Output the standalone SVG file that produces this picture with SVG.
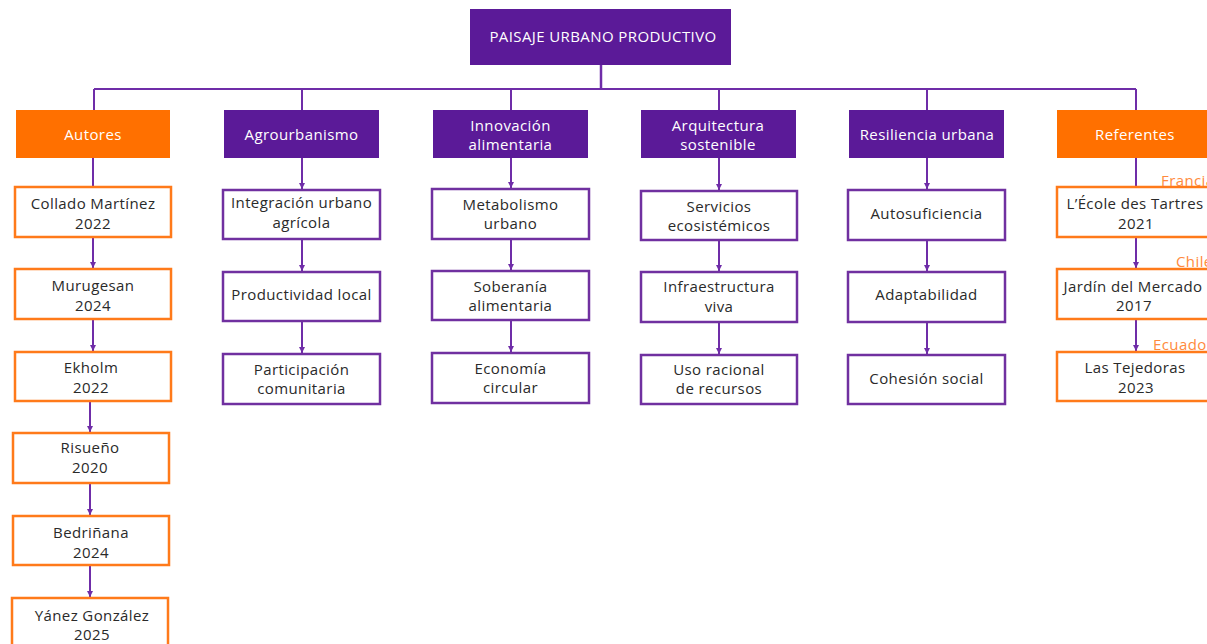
<svg xmlns="http://www.w3.org/2000/svg" width="1207" height="644" viewBox="0 0 1207 644">
  <style>
    .hdr-p { fill: #5B1A98; }
    .hdr-o { fill: #FF7000; }
    .box-p { fill: #ffffff; stroke: #7030A0; stroke-width: 2.5; }
    .box-o { fill: #ffffff; stroke: #FF7A1A; stroke-width: 2.5; }
    text { font-family: "Open Sans", "Liberation Sans", sans-serif; font-size: 15px; letter-spacing: 0.4px; }
    .t { text-anchor: middle; fill: #2a2a2a; }
    .tw { text-anchor: middle; fill: #ffffff; }
    .lbl { fill: #FF8A3D; text-anchor: start; }
    .conn { stroke: #6F2DA8; stroke-width: 2; fill: none; }
    .trunk { stroke: #6F2DA8; stroke-width: 2.5; fill: none; }
  </style>
  <defs>
    <marker id="arrow" markerUnits="userSpaceOnUse" markerWidth="8" markerHeight="8" refX="6" refY="3" orient="auto">
      <path d="M0,0 L6,3 L0,6 z" fill="#6F2DA8"/>
    </marker>
  </defs>

  <rect width="1207" height="644" fill="#ffffff"/>

  <!-- connectors -->
  <g id="connectors">
    <path class="trunk" d="M601,65 V89"/>
    <path class="conn" d="M94,89 H1136"/>
    <path class="conn" d="M94,89 V110 M302,89 V110 M511,89 V110 M719,89 V110 M927,89 V110 M1136,89 V110"/>
    <!-- Autores -->
    <path class="conn" d="M93,158 V187"/>
    <path class="conn" d="M93,237 V268" marker-end="url(#arrow)"/>
    <path class="conn" d="M93,319 V351" marker-end="url(#arrow)"/>
    <path class="conn" d="M90,401 V432" marker-end="url(#arrow)"/>
    <path class="conn" d="M90,483 V515" marker-end="url(#arrow)"/>
    <path class="conn" d="M90,565 V597" marker-end="url(#arrow)"/>
    <!-- Agrourbanismo -->
    <path class="conn" d="M302,158 V189" marker-end="url(#arrow)"/>
    <path class="conn" d="M302,239 V271" marker-end="url(#arrow)"/>
    <path class="conn" d="M302,321 V353" marker-end="url(#arrow)"/>
    <!-- Innovación alimentaria -->
    <path class="conn" d="M511,158 V188" marker-end="url(#arrow)"/>
    <path class="conn" d="M511,239 V270" marker-end="url(#arrow)"/>
    <path class="conn" d="M511,320 V352" marker-end="url(#arrow)"/>
    <!-- Arquitectura sostenible -->
    <path class="conn" d="M719,158 V190" marker-end="url(#arrow)"/>
    <path class="conn" d="M719,240 V271" marker-end="url(#arrow)"/>
    <path class="conn" d="M719,322 V354" marker-end="url(#arrow)"/>
    <!-- Resiliencia urbana -->
    <path class="conn" d="M927,158 V189" marker-end="url(#arrow)"/>
    <path class="conn" d="M927,240 V271" marker-end="url(#arrow)"/>
    <path class="conn" d="M927,322 V354" marker-end="url(#arrow)"/>
    <!-- Referentes -->
    <path class="conn" d="M1136,158 V187"/>
    <path class="conn" d="M1136,237 V268" marker-end="url(#arrow)"/>
    <path class="conn" d="M1136,319 V351" marker-end="url(#arrow)"/>
  </g>

  <!-- root -->
  <g id="paisaje">
    <rect class="hdr-p" x="470" y="9" width="261" height="56"/>
    <text class="tw" x="603" y="42">PAISAJE URBANO PRODUCTIVO</text>
  </g>

  <!-- Autores column -->
  <g id="autores">
    <rect class="hdr-o" x="16" y="110" width="154" height="48"/>
    <text class="tw" x="93" y="140">Autores</text>
  </g>
  <g id="collado">
    <rect class="box-o" x="15" y="187" width="156" height="50"/>
    <text class="t" x="93" y="209">Collado Martínez</text>
    <text class="t" x="93" y="229">2022</text>
  </g>
  <g id="murugesan">
    <rect class="box-o" x="15" y="269" width="156" height="50"/>
    <text class="t" x="93" y="291">Murugesan</text>
    <text class="t" x="93" y="311">2024</text>
  </g>
  <g id="ekholm">
    <rect class="box-o" x="15" y="352" width="156" height="49"/>
    <text class="t" x="91" y="373">Ekholm</text>
    <text class="t" x="91" y="393">2022</text>
  </g>
  <g id="risueno">
    <rect class="box-o" x="13" y="433" width="156" height="50"/>
    <text class="t" x="90" y="453">Risueño</text>
    <text class="t" x="90" y="473">2020</text>
  </g>
  <g id="bedrinana">
    <rect class="box-o" x="13" y="516" width="156" height="49"/>
    <text class="t" x="91" y="538">Bedriñana</text>
    <text class="t" x="91" y="558">2024</text>
  </g>
  <g id="yanez">
    <rect class="box-o" x="12" y="598" width="156" height="60"/>
    <text class="t" x="92" y="621">Yánez González</text>
    <text class="t" x="92" y="640">2025</text>
  </g>

  <!-- Agrourbanismo column -->
  <g id="agrourbanismo">
    <rect class="hdr-p" x="224" y="110" width="155" height="48"/>
    <text class="tw" x="301.5" y="140">Agrourbanismo</text>
  </g>
  <g id="integracion">
    <rect class="box-p" x="223" y="190" width="157" height="49"/>
    <text class="t" x="301.5" y="208">Integración urbano</text>
    <text class="t" x="301.5" y="228">agrícola</text>
  </g>
  <g id="productividad">
    <rect class="box-p" x="223" y="272" width="157" height="49"/>
    <text class="t" x="301.5" y="300">Productividad local</text>
  </g>
  <g id="participacion">
    <rect class="box-p" x="223" y="354" width="157" height="50"/>
    <text class="t" x="301.5" y="375">Participación</text>
    <text class="t" x="301.5" y="394">comunitaria</text>
  </g>

  <!-- Innovación alimentaria column -->
  <g id="innovacion">
    <rect class="hdr-p" x="433" y="110" width="155" height="48"/>
    <text class="tw" x="510.5" y="131">Innovación</text>
    <text class="tw" x="510.5" y="150">alimentaria</text>
  </g>
  <g id="metabolismo">
    <rect class="box-p" x="432" y="189" width="157" height="50"/>
    <text class="t" x="510.5" y="210">Metabolismo</text>
    <text class="t" x="510.5" y="229">urbano</text>
  </g>
  <g id="soberania">
    <rect class="box-p" x="432" y="271" width="157" height="49"/>
    <text class="t" x="510.5" y="292">Soberanía</text>
    <text class="t" x="510.5" y="311">alimentaria</text>
  </g>
  <g id="economia">
    <rect class="box-p" x="432" y="353" width="157" height="50"/>
    <text class="t" x="510.5" y="374">Economía</text>
    <text class="t" x="510.5" y="393">circular</text>
  </g>

  <!-- Arquitectura sostenible column -->
  <g id="arquitectura">
    <rect class="hdr-p" x="641" y="110" width="155" height="48"/>
    <text class="tw" x="718" y="131">Arquitectura</text>
    <text class="tw" x="718" y="150">sostenible</text>
  </g>
  <g id="servicios">
    <rect class="box-p" x="641" y="191" width="156" height="49"/>
    <text class="t" x="719" y="212">Servicios</text>
    <text class="t" x="719" y="231">ecosistémicos</text>
  </g>
  <g id="infraestructura">
    <rect class="box-p" x="641" y="272" width="156" height="50"/>
    <text class="t" x="719" y="292">Infraestructura</text>
    <text class="t" x="719" y="312">viva</text>
  </g>
  <g id="uso-racional">
    <rect class="box-p" x="641" y="355" width="156" height="49"/>
    <text class="t" x="719" y="375">Uso racional</text>
    <text class="t" x="719" y="394">de recursos</text>
  </g>

  <!-- Resiliencia urbana column -->
  <g id="resiliencia">
    <rect class="hdr-p" x="849" y="110" width="155" height="48"/>
    <text class="tw" x="927" y="140">Resiliencia urbana</text>
  </g>
  <g id="autosuficiencia">
    <rect class="box-p" x="848" y="190" width="157" height="50"/>
    <text class="t" x="926.5" y="219">Autosuficiencia</text>
  </g>
  <g id="adaptabilidad">
    <rect class="box-p" x="848" y="272" width="157" height="50"/>
    <text class="t" x="926.5" y="300">Adaptabilidad</text>
  </g>
  <g id="cohesion">
    <rect class="box-p" x="848" y="355" width="157" height="49"/>
    <text class="t" x="926.5" y="384">Cohesión social</text>
  </g>

  <!-- Referentes column -->
  <g id="referentes">
    <rect class="hdr-o" x="1057" y="110" width="156" height="48"/>
    <text class="tw" x="1135" y="140">Referentes</text>
  </g>
  <g id="ecole">
    <rect class="box-o" x="1057" y="187" width="156" height="50"/>
    <text class="t" x="1135" y="209">L’École des Tartres</text>
    <text class="t" x="1136" y="229">2021</text>
    <text class="lbl" x="1161" y="186">Francia</text>
  </g>
  <g id="jardin">
    <rect class="box-o" x="1057" y="269" width="156" height="50"/>
    <text class="t" x="1133" y="292">Jardín del Mercado</text>
    <text class="t" x="1134" y="311">2017</text>
    <text class="lbl" x="1176" y="267">Chile</text>
  </g>
  <g id="tejedoras">
    <rect class="box-o" x="1057" y="352" width="156" height="49"/>
    <text class="t" x="1135" y="373">Las Tejedoras</text>
    <text class="t" x="1136" y="393">2023</text>
    <text class="lbl" x="1153" y="350">Ecuador</text>
  </g>
</svg>
